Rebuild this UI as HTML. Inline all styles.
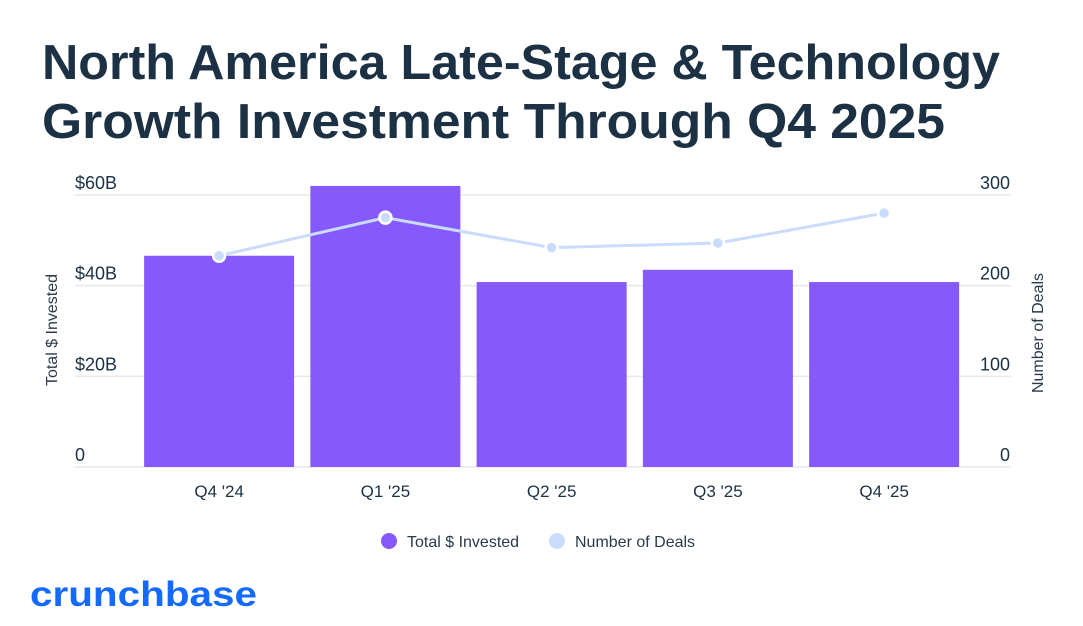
<!DOCTYPE html>
<html><head><meta charset="utf-8"><style>
body{margin:0;background:#fff;width:1083px;height:621px;overflow:hidden;font-family:"Liberation Sans",sans-serif;}
svg text{font-family:"Liberation Sans",sans-serif;}
</style></head><body>
<svg width="1083" height="621">
<text x="42" y="79" font-size="49" font-weight="bold" fill="#1c3144" textLength="958" lengthAdjust="spacingAndGlyphs">North America Late-Stage &amp; Technology</text>
<text x="42" y="138" font-size="49" font-weight="bold" fill="#1c3144" textLength="903" lengthAdjust="spacingAndGlyphs">Growth Investment Through Q4 2025</text>
<g id="grid"></g><g id="bars"></g><g id="line"></g><g id="labels"></g>
<text transform="translate(57,330) rotate(-90)" text-anchor="middle" font-size="16" fill="#2a3a4a">Total $ Invested</text>
<text transform="translate(1043,333) rotate(-90)" text-anchor="middle" font-size="16" fill="#2a3a4a">Number of Deals</text>
<g>
<circle cx="389" cy="541" r="8" fill="#8559fb"/>
<text x="407" y="547" font-size="16" fill="#2a3a4a">Total $ Invested</text>
<circle cx="557" cy="541" r="8" fill="#c9dcfb"/>
<text x="575" y="547" font-size="16" fill="#2a3a4a">Number of Deals</text>
</g>
<text x="30" y="606" font-size="35" font-weight="bold" fill="#146aff" textLength="227" lengthAdjust="spacingAndGlyphs">crunchbase</text>
</svg>
<script>
const categories=["Q4 '24","Q1 '25","Q2 '25","Q3 '25","Q4 '25"];
const invested=[46.6,62,40.8,43.5,40.8];
const deals=[233,275,242,247,280];
const leftTicks=[0,20,40,60];
const leftTickLabels=["0","$20B","$40B","$60B"];
const rightTicks=[0,100,200,300];
const NS="http://www.w3.org/2000/svg";
const y0=467,yTop=195;
const yL=v=>y0-(v/60)*(y0-yTop);
const yR=v=>y0-(v/300)*(y0-yTop);
const left=136,step=166.25;
const xC=i=>left+step*(i+0.5);
function mk(t,a,p){const e=document.createElementNS(NS,t);for(const k in a)e.setAttribute(k,a[k]);document.getElementById(p).appendChild(e);return e;}
leftTicks.forEach((v,i)=>{
 const l=mk('line',{x1:75,x2:1011,y1:yL(v),y2:yL(v),stroke:'#e6e8eb','stroke-width':1.5},'grid');
 
 
 const t=mk('text',{x:75,y:yL(v)-6,'font-size':18,fill:'#1c3144'},'labels');t.textContent=leftTickLabels[i];
 
 
});
rightTicks.forEach(v=>{
 const t=mk('text',{x:1010,y:yR(v)-6,'font-size':18,fill:'#1c3144','text-anchor':'end'},'labels');t.textContent=v;
 
 
});
categories.forEach((c,i)=>{
 const b=mk('rect',{x:xC(i)-75,y:yL(invested[i]),width:150,height:y0-yL(invested[i]),fill:'#8559fb'},'bars');
 
 
 const t=mk('text',{x:xC(i),y:497,'font-size':17,fill:'#1c3144','text-anchor':'middle'},'labels');t.textContent=c;
 
 
});
const pl=mk('polyline',{points:deals.map((d,i)=>xC(i)+','+yR(d)).join(' '),fill:'none',stroke:'#c9dcfb','stroke-width':3},'line');


deals.forEach((d,i)=>{
 const c=mk('circle',{cx:xC(i),cy:yR(d),r:6,fill:'#c9dcfb',stroke:'#fff','stroke-width':2.5},'line');
 
 
});
</script>
</body></html>
